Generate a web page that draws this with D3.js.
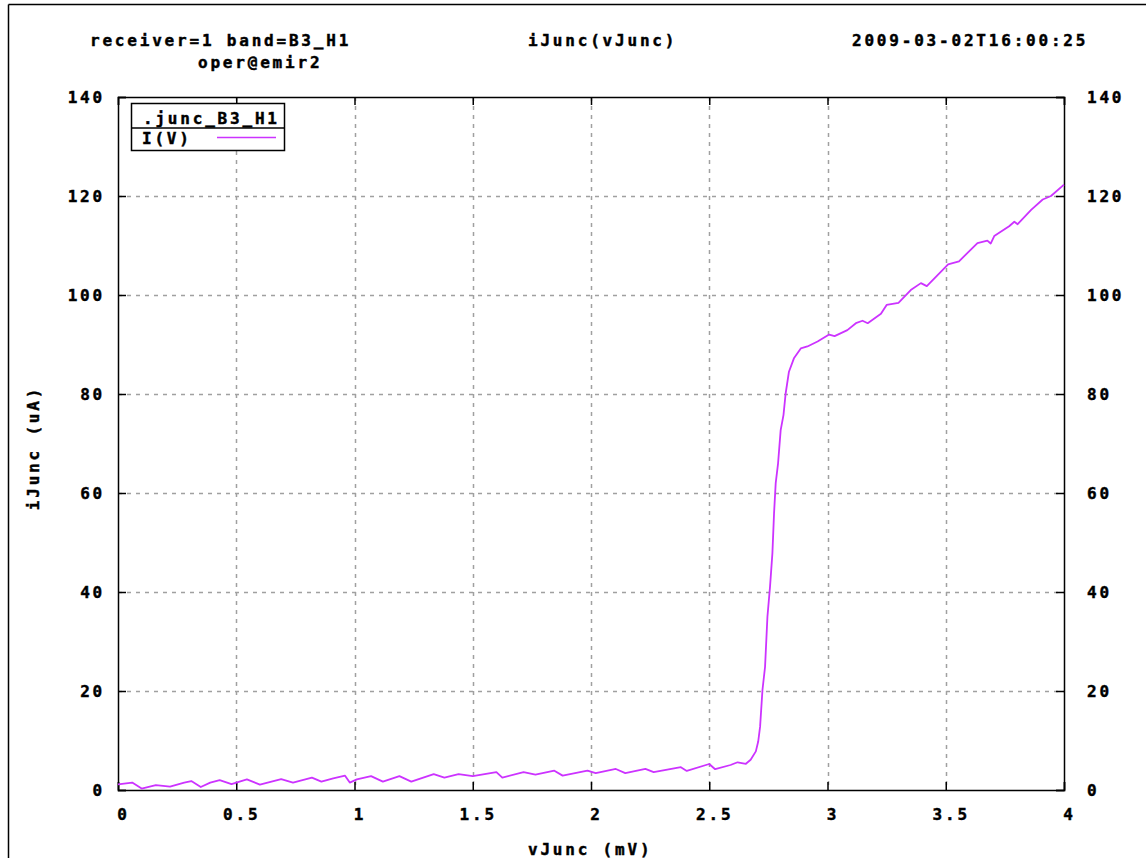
<!DOCTYPE html>
<html>
<head>
<meta charset="utf-8">
<script src="https://cdn.jsdelivr.net/npm/d3@7"></script>
<style>
  body { margin: 0; background: #fff; }
  svg text { font-family: "DejaVu Sans Mono", monospace; font-weight: bold; font-size: 16px; letter-spacing: 2.8px; fill: #000; stroke: #000; stroke-width: 0.45px; }
</style>
</head>
<body>
<div id="chart"></div>
<script>
// Data: junction voltage (mV) vs current (uA)
var vJunc = [0.00, 0.06, 0.10, 0.16, 0.22, 0.28, 0.31, 0.35, 0.39, 0.43, 0.48, 0.545, 0.60, 0.69, 0.74,
  0.82, 0.86, 0.91, 0.96, 0.98, 1.01, 1.07, 1.12, 1.19, 1.24, 1.335, 1.38, 1.44, 1.50, 1.55, 1.60, 1.625,
  1.715, 1.765, 1.845, 1.88, 1.985, 2.02, 2.105, 2.145, 2.23, 2.265, 2.38, 2.405, 2.50, 2.525, 2.59, 2.62,
  2.655, 2.675, 2.697, 2.707, 2.715, 2.725, 2.736, 2.746, 2.757, 2.767, 2.774, 2.781, 2.791, 2.802, 2.814,
  2.823, 2.837, 2.858, 2.887, 2.915, 2.958, 3.007, 3.03, 3.084, 3.12, 3.148, 3.17, 3.226, 3.25, 3.30, 3.352,
  3.395, 3.42, 3.51, 3.556, 3.634, 3.676, 3.69, 3.705, 3.768, 3.79, 3.804, 3.861, 3.91, 3.945, 4.00];
var iJunc = [1.15, 1.5, 0.3, 1.0, 0.7, 1.5, 1.8, 0.6, 1.5, 2.0, 1.2, 2.15, 1.1, 2.2, 1.5,
  2.5, 1.7, 2.35, 2.9, 1.5, 2.15, 2.8, 1.7, 2.8, 1.7, 3.2, 2.5, 3.2, 2.8, 3.2, 3.6, 2.5,
  3.6, 3.1, 3.9, 2.9, 3.9, 3.4, 4.25, 3.4, 4.25, 3.6, 4.6, 3.85, 5.25, 4.2, 5.05, 5.6,
  5.3, 6.1, 7.8, 9.8, 12.8, 20.2, 24.9, 35, 41.1, 47.8, 55.9, 62, 66, 72.7, 75.8,
  80.1, 84.5, 87.2, 89.2, 89.6, 90.6, 92.0, 91.7, 92.9, 94.3, 94.8, 94.3, 96.2, 98, 98.4, 101,
  102.4, 101.8, 106.2, 106.8, 110.5, 111, 110.4, 111.9, 113.9, 114.8, 114.3, 117.2, 119.3, 120, 122.3];

var xTicks = [0, 0.5, 1, 1.5, 2, 2.5, 3, 3.5, 4];
var yTicks = [0, 20, 40, 60, 80, 100, 120, 140];

var titleLeft = ["receiver=1 band=B3_H1", "oper@emir2"];
var titleMid = "iJunc(vJunc)";
var titleRight = "2009-03-02T16:00:25";
var xLabel = "vJunc (mV)";
var yLabel = "iJunc (uA)";
var legendTitle = ".junc_B3_H1";
var seriesName = "I(V)";

// svg container
var svgWidth = 1146;
var svgHeight = 858;

// plot area
var plot = { left: 118, right: 1064, top: 97, bottom: 790 };

var svg = d3.select("#chart").append("svg")
  .attr("width", svgWidth)
  .attr("height", svgHeight);

// outer frame (only top and left edges are visible)
svg.append("line").attr("x1", 8.5).attr("y1", 4.5).attr("x2", svgWidth).attr("y2", 4.5)
  .attr("stroke", "#000").attr("stroke-width", 1.5);
svg.append("line").attr("x1", 8.5).attr("y1", 4.5).attr("x2", 8.5).attr("y2", svgHeight)
  .attr("stroke", "#000").attr("stroke-width", 1.5);

var xScale = d3.scaleLinear().domain([0, 4]).range([plot.left, plot.right]);
var yScale = d3.scaleLinear().domain([0, 140]).range([plot.bottom, plot.top]);

// grid
var grid = svg.append("g").attr("stroke", "#a0a0a0").attr("stroke-width", 1.5)
  .attr("stroke-dasharray", "4,5");
grid.selectAll(".gx").data(xTicks.slice(1, -1)).enter().append("line")
  .attr("x1", function (d) { return Math.round(xScale(d)) + 0.5; })
  .attr("x2", function (d) { return Math.round(xScale(d)) + 0.5; })
  .attr("y1", plot.top).attr("y2", plot.bottom);
grid.selectAll(".gy").data(yTicks.slice(1, -1)).enter().append("line")
  .attr("y1", function (d) { return Math.round(yScale(d)) + 0.5; })
  .attr("y2", function (d) { return Math.round(yScale(d)) + 0.5; })
  .attr("x1", plot.left).attr("x2", plot.right);

// axes with inward ticks on all four sides
var tickLen = 8;
var bottomAxis = d3.axisBottom(xScale).tickValues(xTicks).tickSize(-tickLen).tickFormat("");
var topAxis = d3.axisTop(xScale).tickValues(xTicks).tickSize(-tickLen).tickFormat("");
var leftAxis = d3.axisLeft(yScale).tickValues(yTicks).tickSize(-tickLen).tickFormat("");
var rightAxis = d3.axisRight(yScale).tickValues(yTicks).tickSize(-tickLen).tickFormat("");

function styleAxis(g) {
  g.selectAll("path, line").attr("stroke", "#000").attr("stroke-width", 1.5);
}
svg.append("g").attr("transform", "translate(0," + plot.bottom + ")").call(bottomAxis).call(styleAxis);
svg.append("g").attr("transform", "translate(0," + plot.top + ")").call(topAxis).call(styleAxis);
svg.append("g").attr("transform", "translate(" + plot.left + ",0)").call(leftAxis).call(styleAxis);
svg.append("g").attr("transform", "translate(" + plot.right + ",0)").call(rightAxis).call(styleAxis);

// tick labels
svg.selectAll(".xl").data(xTicks).enter().append("text")
  .attr("x", function (d) { return xScale(d) + 5.5; })
  .attr("y", 820)
  .attr("text-anchor", "middle")
  .text(function (d) { return d; });
svg.selectAll(".yl").data(yTicks).enter().append("text")
  .attr("x", 105)
  .attr("y", function (d) { return yScale(d) + 6; })
  .attr("text-anchor", "end")
  .text(function (d) { return d; });
svg.selectAll(".yr").data(yTicks).enter().append("text")
  .attr("x", 1087)
  .attr("y", function (d) { return yScale(d) + 6; })
  .text(function (d) { return d; });

// titles
svg.append("text").attr("x", 90).attr("y", 46).text(titleLeft[0]);
svg.append("text").attr("x", 198).attr("y", 68).text(titleLeft[1]);
svg.append("text").attr("x", 528).attr("y", 46).text(titleMid);
svg.append("text").attr("x", 852).attr("y", 46).text(titleRight);
svg.append("text").attr("x", 528).attr("y", 855).text(xLabel);
svg.append("text")
  .attr("transform", "translate(39," + 448 + ") rotate(-90)")
  .attr("text-anchor", "middle")
  .text(yLabel);

// the curve
var points = vJunc.map(function (v, i) { return [v, iJunc[i]]; });
var line = d3.line()
  .x(function (d) { return xScale(d[0]); })
  .y(function (d) { return yScale(d[1]); });
svg.append("path")
  .datum(points)
  .attr("d", line)
  .attr("fill", "none")
  .attr("stroke", "#cc33ff")
  .attr("stroke-width", 1.8)
  .attr("stroke-linejoin", "round");

// legend
var legend = svg.append("g");
legend.append("rect").attr("x", 131.5).attr("y", 103.5).attr("width", 153).attr("height", 47)
  .attr("fill", "#fff").attr("stroke", "#000").attr("stroke-width", 1.5);
legend.append("line").attr("x1", 131.5).attr("x2", 284.5).attr("y1", 128).attr("y2", 128)
  .attr("stroke", "#000").attr("stroke-width", 1.5);
legend.append("text").attr("x", 143).attr("y", 124).text(legendTitle);
legend.append("text").attr("x", 142).attr("y", 144).text(seriesName);
legend.append("line").attr("x1", 217).attr("x2", 276).attr("y1", 137.5).attr("y2", 137.5)
  .attr("stroke", "#cc33ff").attr("stroke-width", 1.6);
</script>
</body>
</html>
